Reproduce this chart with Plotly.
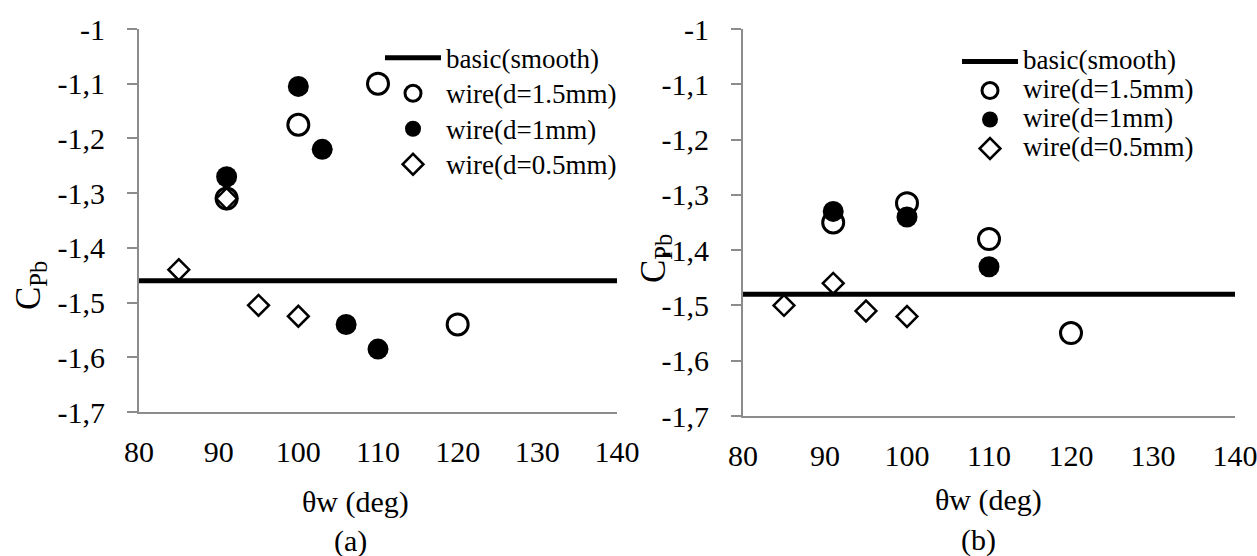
import plotly.graph_objects as go

# ---------------- data ----------------
x_ticks = [80, 90, 100, 110, 120, 130, 140]
y_ticks = [-1.7, -1.6, -1.5, -1.4, -1.3, -1.2, -1.1, -1.0]
y_tick_labels = ["-1,7", "-1,6", "-1,5", "-1,4", "-1,3", "-1,2", "-1,1", "-1"]

series_names = ["basic(smooth)", "wire(d=1.5mm)", "wire(d=1mm)", "wire(d=0.5mm)"]

# panel (a)
a_basic_x = [80, 140]
a_basic_y = [-1.46, -1.46]
a_w15_x = [91, 100, 110, 120]
a_w15_y = [-1.31, -1.175, -1.10, -1.54]
a_w10_x = [91, 100, 103, 106, 110]
a_w10_y = [-1.27, -1.105, -1.22, -1.54, -1.585]
a_w05_x = [85, 91, 95, 100]
a_w05_y = [-1.44, -1.31, -1.505, -1.525]

# panel (b)
b_basic_x = [80, 140]
b_basic_y = [-1.48, -1.48]
b_w15_x = [91, 100, 110, 120]
b_w15_y = [-1.35, -1.315, -1.38, -1.55]
b_w10_x = [91, 100, 110]
b_w10_y = [-1.33, -1.34, -1.43]
b_w05_x = [85, 91, 95, 100]
b_w05_y = [-1.50, -1.46, -1.51, -1.52]

FONT = "Liberation Serif, Tinos, 'Times New Roman', 'DejaVu Serif', serif"
GRAY = "#8c8c8c"
W, H = 1257, 556

fig = go.Figure()


def add_panel(xa, ya, legend, basic, w15, w10, w05, txt_size):
    def nm(s):
        return f'<span style="font-size:{txt_size}px">{s}</span>'
    fig.add_trace(go.Scatter(x=basic[0], y=basic[1], mode="lines", name=nm(series_names[0]),
                             line=dict(color="black", width=5), xaxis=xa, yaxis=ya,
                             legend=legend, cliponaxis=False))
    fig.add_trace(go.Scatter(x=w15[0], y=w15[1], mode="markers", name=nm(series_names[1]),
                             marker=dict(symbol="circle-open", size=21, color="black",
                                         line=dict(width=3, color="black")),
                             xaxis=xa, yaxis=ya, legend=legend, cliponaxis=False))
    fig.add_trace(go.Scatter(x=w10[0], y=w10[1], mode="markers", name=nm(series_names[2]),
                             marker=dict(symbol="circle", size=21, color="black"),
                             xaxis=xa, yaxis=ya, legend=legend, cliponaxis=False))
    fig.add_trace(go.Scatter(x=w05[0], y=w05[1], mode="markers", name=nm(series_names[3]),
                             marker=dict(symbol="diamond-open", size=16, color="black",
                                         line=dict(width=2.5, color="black")),
                             xaxis=xa, yaxis=ya, legend=legend, cliponaxis=False))


add_panel("x", "y", "legend", (a_basic_x, a_basic_y), (a_w15_x, a_w15_y),
          (a_w10_x, a_w10_y), (a_w05_x, a_w05_y), 27)
add_panel("x2", "y2", "legend2", (b_basic_x, b_basic_y), (b_w15_x, b_w15_y),
          (b_w10_x, b_w10_y), (b_w05_x, b_w05_y), 27)

# panel geometry (pixels)
a_l, a_r, a_t, a_b = 139, 617, 29, 412
b_l, b_r, b_t, b_b = 743, 1235, 29, 416


def xd(l, r):
    return [l / W, r / W]


def yd(t, b):
    return [1 - b / H, 1 - t / H]


tickfont = dict(family=FONT, size=30, color="black")


def xaxis_main(dom, anchor):
    return dict(domain=dom, anchor=anchor, range=[80, 140], tickvals=x_ticks,
                ticks="", showline=True, linecolor=GRAY, linewidth=2, showgrid=False,
                zeroline=False, tickfont=tickfont, ticklabelstandoff=12, fixedrange=True,
                automargin=False, ticklabeloverflow="allow")


def xaxis_top(dom, anchor, over):
    return dict(domain=dom, anchor=anchor, overlaying=over, side="top", range=[80, 140],
                tickvals=x_ticks, ticks="inside", ticklen=8, tickwidth=2, tickcolor=GRAY,
                showline=True, linecolor=GRAY, linewidth=2, showgrid=False, zeroline=False,
                showticklabels=False, automargin=False)


def yaxis_main(dom, anchor):
    return dict(domain=dom, anchor=anchor, range=[-1.7, -1.0], tickvals=y_ticks,
                ticktext=y_tick_labels, ticks="outside", ticklen=10, tickwidth=2,
                tickcolor=GRAY, showline=True, linecolor=GRAY, linewidth=2, showgrid=False,
                zeroline=False, tickfont=tickfont, ticklabelstandoff=16, automargin=False,
                ticklabeloverflow="allow")


def yaxis_right(dom, anchor, over):
    return dict(domain=dom, anchor=anchor, overlaying=over, side="right",
                range=[-1.7, -1.0], showline=True, linecolor="black", linewidth=2,
                ticks="", showticklabels=False, showgrid=False, zeroline=False,
                automargin=False)


fig.update_layout(
    width=W, height=H,
    margin=dict(l=0, r=0, t=0, b=0, autoexpand=False),
    paper_bgcolor="white", plot_bgcolor="white",
    separators=", ",
    font=dict(family=FONT, color="black"),
    xaxis=xaxis_main(xd(a_l, a_r), "y"),
    yaxis=yaxis_main(yd(a_t, a_b), "x"),
    xaxis2=xaxis_main(xd(b_l, b_r), "y2"),
    yaxis2=yaxis_main(yd(b_t, b_b), "x2"),
    xaxis3=xaxis_top(xd(a_l, a_r), "y", "x"),
    xaxis4=xaxis_top(xd(b_l, b_r), "y2", "x2"),
    yaxis3=yaxis_right(yd(a_t, a_b), "x", "y"),
    yaxis4=yaxis_right(yd(b_t, b_b), "x2", "y2"),
    legend=dict(x=380 / W, y=1 - 35 / H, xanchor="left", yanchor="top",
                bgcolor="rgba(0,0,0,0)", font=dict(family=FONT, size=25, color="black"),
                itemwidth=56, tracegroupgap=0),
    legend2=dict(x=957 / W, y=1 - 42 / H, xanchor="left", yanchor="top",
                 bgcolor="rgba(0,0,0,0)", font=dict(family=FONT, size=20, color="black"),
                 itemwidth=56, tracegroupgap=0),
    showlegend=True,
)

annfont = dict(family=FONT, size=30, color="black")
anns = [
    dict(text="θw (deg)", x=355 / W, y=1 - 502 / H),
    dict(text="θw (deg)", x=988 / W, y=1 - 500 / H),
    dict(text="(a)", x=350 / W, y=1 - 541 / H),
    dict(text="(b)", x=978 / W, y=1 - 540 / H),
]
for a in anns:
    fig.add_annotation(xref="paper", yref="paper", showarrow=False, xanchor="center",
                       yanchor="middle", font=annfont, **a)

for x_px, y_px in [(30, 286), (655, 259)]:
    fig.add_annotation(xref="paper", yref="paper", showarrow=False, xanchor="center",
                       yanchor="middle", textangle=-90, text="C<sub>Pb</sub>",
                       x=x_px / W, y=1 - y_px / H,
                       font=dict(family=FONT, size=35, color="black"))

fig.write_html("out.html", post_script="document.body.style.margin='0';",
               config={"displayModeBar": False})
